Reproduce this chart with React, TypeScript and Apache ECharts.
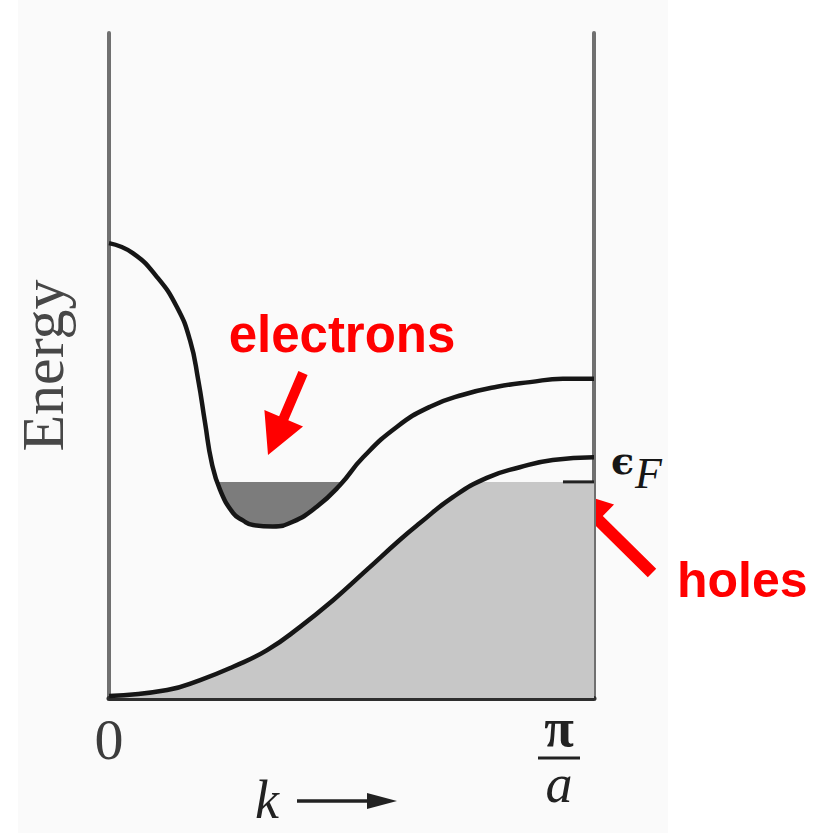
import React, { useEffect, useRef } from "react";
import * as echarts from "echarts";

// Wave vector k in units of π/a, energy in arbitrary units (0 – 10).
const upperK = [0, 0.049, 0.099, 0.14, 0.167, 0.184, 0.198, 0.212, 0.229, 0.256, 0.276, 0.297, 0.338, 0.379, 0.429, 0.476, 0.524, 0.594, 0.662, 0.73, 0.8, 0.868, 0.936, 1.0];
const upperE = [6.84, 6.69, 6.33, 5.88, 5.38, 4.78, 4.14, 3.53, 3.13, 2.78, 2.67, 2.6, 2.58, 2.65, 2.88, 3.2, 3.62, 4.08, 4.38, 4.56, 4.68, 4.75, 4.8, 4.8];

const lowerK = [0, 0.12, 0.188, 0.256, 0.326, 0.394, 0.462, 0.532, 0.6, 0.641, 0.709, 0.779, 0.847, 0.915, 1.0];
const lowerE = [0.03, 0.12, 0.27, 0.47, 0.72, 1.07, 1.47, 1.93, 2.38, 2.63, 3.02, 3.31, 3.47, 3.58, 3.62];

const fermiEnergy = 3.25;
// k where each band meets the Fermi level
const upperCrossK = [0.223, 0.48];
const lowerCrossK = 0.765;
// short Fermi-level mark inside the hole pocket
const fermiMarkK = [0.936, 1.0];

const kMin = 0;
const kMax = 1;
const eMin = 0;
const eMax = 10;

const upperBand = upperK.map((k, i) => [k, upperE[i]]);
const lowerBand = lowerK.map((k, i) => [k, lowerE[i]]);

// occupied part of the upper band (electron pocket), bounded by the Fermi level
const electronPocket = [
  [upperCrossK[0], fermiEnergy],
  ...upperBand.filter(([k]) => k > upperCrossK[0] && k < upperCrossK[1]),
  [upperCrossK[1], fermiEnergy],
];

// occupied part of the lower band: under the band, capped at the Fermi level
const occupiedLower = [
  ...lowerBand.filter(([k]) => k < lowerCrossK),
  [lowerCrossK, fermiEnergy],
  [kMax, fermiEnergy],
];

const fermiMark = fermiMarkK.map((k) => [k, fermiEnergy]);

function arrowPoints(
  tail: number[],
  tip: number[],
  headLen: number,
  headHalf: number,
  shaftHalf: number
) {
  const dx = tip[0] - tail[0];
  const dy = tip[1] - tail[1];
  const len = Math.hypot(dx, dy);
  const ux = dx / len;
  const uy = dy / len;
  const nx = -uy;
  const ny = ux;
  const bx = tip[0] - ux * headLen;
  const by = tip[1] - uy * headLen;
  return [
    [tail[0] + nx * shaftHalf, tail[1] + ny * shaftHalf],
    [bx + nx * shaftHalf, by + ny * shaftHalf],
    [bx + nx * headHalf, by + ny * headHalf],
    [tip[0], tip[1]],
    [bx - nx * headHalf, by - ny * headHalf],
    [bx - nx * shaftHalf, by - ny * shaftHalf],
    [tail[0] - nx * shaftHalf, tail[1] - ny * shaftHalf],
  ];
}

const SERIF = '"Liberation Serif", "Times New Roman", serif';
const SANS = '"Liberation Sans", Arial, sans-serif';
const RED = "#ff0000";
const INK = "#161616";
const SMOOTH = 0.5;

export default function App() {
  const ref = useRef<HTMLDivElement>(null);

  useEffect(() => {
    if (!ref.current) return;
    const chart = echarts.init(ref.current, null, { renderer: "svg" });

    const bandLine = {
      type: "line",
      smooth: SMOOTH,
      symbol: "none",
      silent: true,
      z: 5,
      lineStyle: { color: INK, width: 4.5 },
    };

    chart.setOption({
      animation: false,
      backgroundColor: "#ffffff",
      grid: {
        left: 109,
        right: 233,
        top: 33,
        bottom: 135,
        containLabel: false,
        outerBoundsMode: "none",
      },
      xAxis: {
        type: "value",
        min: kMin,
        max: kMax,
        interval: 1,
        axisLine: { show: true, onZero: false, lineStyle: { color: "#2e2e2e", width: 5 } },
        axisTick: { show: false },
        splitLine: { show: false },
        axisLabel: {
          show: true,
          margin: 5,
          formatter: (v: number) =>
            v === 0 ? "{z|0}" : "{n|π}{sp| }\n{bar| }{sp| }\n{d|a}{sp| }",
          rich: {
            z: {
              fontFamily: SERIF,
              fontSize: 58,
              lineHeight: 72,
              color: "#3c3c3c",
            },
            n: {
              fontFamily: SERIF,
              fontSize: 54,
              fontWeight: "bold",
              lineHeight: 50,
              width: 42,
              align: "center",
              color: "#222",
            },
            bar: {
              width: 42,
              height: 3,
              lineHeight: 10,
              fontSize: 2,
              backgroundColor: "#222",
            },
            d: {
              fontFamily: SERIF,
              fontStyle: "italic",
              fontSize: 54,
              lineHeight: 42,
              width: 42,
              align: "center",
              color: "#222",
            },
            sp: { width: 70, fontSize: 2 },
          },
        },
      },
      yAxis: [
        {
          type: "value",
          min: eMin,
          max: eMax,
          position: "left",
          axisLine: { show: true, onZero: false, lineStyle: { color: "#707070", width: 4 } },
          axisTick: { show: false },
          axisLabel: { show: false },
          splitLine: { show: false },
          name: "Energy",
          nameLocation: "middle",
          nameRotate: 90,
          nameGap: 36,
          nameTextStyle: { fontFamily: SERIF, fontSize: 60, lineHeight: 60, color: "#474747" },
        },
        {
          type: "value",
          min: eMin,
          max: eMax,
          position: "right",
          axisLine: { show: true, onZero: false, lineStyle: { color: "#707070", width: 4 } },
          axisTick: { show: false },
          axisLabel: { show: false },
          splitLine: { show: false },
        },
      ],
      series: [
        {
          name: "occupied lower band",
          type: "line",
          data: occupiedLower,
          smooth: SMOOTH,
          symbol: "none",
          silent: true,
          z: 2,
          lineStyle: { width: 0, opacity: 0 },
          areaStyle: { color: "#c7c7c7", opacity: 1, origin: "start" },
        },
        {
          name: "electron pocket",
          type: "line",
          data: electronPocket,
          smooth: SMOOTH,
          symbol: "none",
          silent: true,
          z: 3,
          lineStyle: { width: 0, opacity: 0 },
          areaStyle: { color: "#7c7c7c", opacity: 1, origin: fermiEnergy },
        },
        {
          name: "Fermi level",
          type: "line",
          data: fermiMark,
          symbol: "none",
          silent: true,
          z: 4,
          lineStyle: { color: "#222", width: 3 },
        },
        { ...bandLine, name: "lower band", data: lowerBand },
        { ...bandLine, name: "upper band", data: upperBand },
      ],
      graphic: [
        {
          type: "rect",
          z: -100,
          silent: true,
          shape: { x: 18, y: 0, width: 650, height: 833 },
          style: { fill: "#fafafa" },
        },
        {
          type: "text",
          x: 611,
          y: 460,
          style: {
            text: "ϵ",
            font: 'bold 38px "DejaVu Serif", serif',
            lineHeight: 36,
            fill: INK,
            align: "left",
            verticalAlign: "middle",
          },
        },
        {
          type: "text",
          x: 635,
          y: 473,
          style: {
            text: "F",
            font: `italic 44px ${SERIF}`,
            lineHeight: 36,
            fill: INK,
            align: "left",
            verticalAlign: "middle",
          },
        },
        {
          type: "text",
          x: 267,
          y: 800,
          style: {
            text: "k",
            font: `italic 54px ${SERIF}`,
            lineHeight: 40,
            fill: "#222",
            align: "center",
            verticalAlign: "middle",
          },
        },
        {
          type: "line",
          shape: { x1: 297, y1: 801, x2: 372, y2: 801 },
          style: { stroke: "#222", lineWidth: 3.5 },
        },
        {
          type: "polygon",
          shape: { points: [[367, 793], [397, 801], [367, 809]] },
          style: { fill: "#222" },
        },
        {
          type: "text",
          x: 342,
          y: 334,
          style: { text: "electrons", font: `bold 51px ${SANS}`, fill: RED, align: "center", verticalAlign: "middle" },
        },
        {
          type: "polygon",
          shape: { points: arrowPoints([303, 373], [268, 455], 40, 21, 5) },
          style: { fill: RED },
        },
        {
          type: "text",
          x: 677,
          y: 580,
          style: { text: "holes", font: `bold 50px ${SANS}`, fill: RED, align: "left", verticalAlign: "middle" },
        },
        {
          type: "polygon",
          shape: { points: arrowPoints([652, 573], [568, 490], 43, 22, 6) },
          style: { fill: RED },
        },
      ],
    });

    return () => chart.dispose();
  }, []);

  return (
    <div
      ref={ref}
      style={{ position: "fixed", left: 0, top: 0, width: 827, height: 833 }}
    />
  );
}
